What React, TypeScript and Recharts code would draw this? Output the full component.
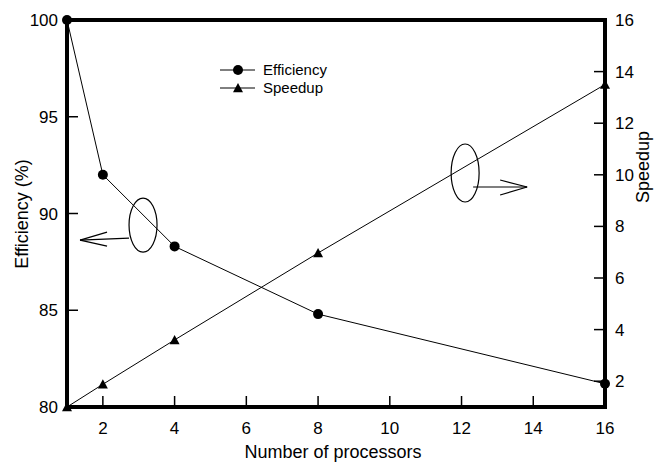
import React from "react";
import {
  LineChart,
  Line,
  XAxis,
  YAxis,
  ReferenceLine,
  ReferenceDot,
} from "recharts";

const processors = [1, 2, 4, 8, 16];
const efficiency = [100, 92, 88.3, 84.8, 81.2];
const speedup = [1, 1.88, 3.6, 6.97, 13.5];

const xTicks = [2, 4, 6, 8, 10, 12, 14, 16];
const effTicks = [80, 85, 90, 95, 100];
const speedTicks = [2, 4, 6, 8, 10, 12, 14, 16];

const data = processors.map((n, i) => ({
  n,
  efficiency: efficiency[i],
  speedup: speedup[i],
}));

const FONT = "Arial, 'Liberation Sans', sans-serif";

const Triangle = ({ cx, cy, size = 5 }: any) => {
  if (cx == null || cy == null) return null;
  return (
    <path
      d={`M${cx},${cy - size} L${cx + size},${cy + size * 0.85} L${cx - size},${cy + size * 0.85} Z`}
      fill="#000"
    />
  );
};

// ellipse + arrow pointing to the left axis
const LeftMarker = ({ cx, cy }: any) => (
  <g stroke="#000" fill="none" strokeWidth={1.2}>
    <ellipse cx={cx} cy={cy} rx={14} ry={27} />
    <line x1={cx - 14} y1={cy + 13} x2={cx - 63} y2={cy + 15} />
    <line x1={cx - 63} y1={cy + 15} x2={cx - 36} y2={cy + 7} />
    <line x1={cx - 63} y1={cy + 15} x2={cx - 36} y2={cy + 21} />
  </g>
);

// ellipse + arrow pointing to the right axis
const RightMarker = ({ cx, cy }: any) => (
  <g stroke="#000" fill="none" strokeWidth={1.2}>
    <ellipse cx={cx} cy={cy} rx={14} ry={29} />
    <line x1={cx + 8} y1={cy + 14} x2={cx + 62} y2={cy + 14} />
    <line x1={cx + 62} y1={cy + 14} x2={cx + 35} y2={cy + 7} />
    <line x1={cx + 62} y1={cy + 14} x2={cx + 35} y2={cy + 22} />
  </g>
);

const LegendBox = () => (
  <svg
    width={130}
    height={40}
    style={{ position: "absolute", left: 215, top: 58, overflow: "visible" }}
  >
    <g stroke="#000" strokeWidth={1}>
      <line x1={5} y1={12} x2={40} y2={12} />
      <line x1={5} y1={30} x2={40} y2={30} />
    </g>
    <circle cx={23} cy={12} r={5} fill="#000" />
    <Triangle cx={23} cy={30} size={5} />
    <text x={48} y={17} fontSize={15} fontFamily={FONT}>
      Efficiency
    </text>
    <text x={48} y={35} fontSize={15} fontFamily={FONT}>
      Speedup
    </text>
  </svg>
);

const tickStyle = { fill: "#000", fontSize: 17, fontFamily: FONT };

export default function App() {
  return (
    <div
      style={{
        position: "absolute",
        left: 0,
        top: 0,
        width: 663,
        height: 464,
        background: "#fff",
      }}
    >
      <LineChart
        width={663}
        height={464}
        data={data}
        margin={{ top: 20, right: 0, left: 0, bottom: 0 }}
      >
        <XAxis
          dataKey="n"
          type="number"
          domain={[1, 16]}
          ticks={xTicks}
          height={57}
          tickSize={-11}
          tickMargin={26}
          tick={tickStyle}
          axisLine={{ stroke: "#000", strokeWidth: 4, strokeLinecap: "square" }}
          tickLine={{ stroke: "#000", strokeWidth: 1.5 }}
          label={{
            content: (props: any) => {
              const vb = props.viewBox || {};
              return (
                <text
                  x={(vb.x || 0) + (vb.width || 0) / 2 - 3}
                  y={458}
                  textAnchor="middle"
                  fontSize={18}
                  fontFamily={FONT}
                  fill="#000"
                >
                  Number of processors
                </text>
              );
            },
          }}
        />
        <YAxis
          yAxisId="left"
          domain={[80, 100]}
          ticks={effTicks}
          width={67}
          tickSize={-11}
          tickMargin={20}
          tick={tickStyle}
          axisLine={{ stroke: "#000", strokeWidth: 4, strokeLinecap: "square" }}
          tickLine={{ stroke: "#000", strokeWidth: 1.5 }}
          label={{
            content: () => (
              <text
                x={0}
                y={0}
                transform="translate(28,214) rotate(-90)"
                textAnchor="middle"
                fontSize={18}
                fontFamily={FONT}
                fill="#000"
              >
                Efficiency (%)
              </text>
            ),
          }}
        />
        <YAxis
          yAxisId="right"
          orientation="right"
          domain={[1, 16]}
          ticks={speedTicks}
          width={58}
          tickSize={-11}
          tickMargin={21}
          tick={tickStyle}
          axisLine={{ stroke: "#000", strokeWidth: 4, strokeLinecap: "square" }}
          tickLine={{ stroke: "#000", strokeWidth: 1.5 }}
          label={{
            content: () => (
              <text
                x={0}
                y={0}
                transform="translate(649,167) rotate(-90)"
                textAnchor="middle"
                fontSize={18}
                fontFamily={FONT}
                fill="#000"
              >
                Speedup
              </text>
            ),
          }}
        />
        <ReferenceLine
          yAxisId="left"
          y={100}
          stroke="#000"
          strokeWidth={4}
          strokeLinecap="square"
        />
        <ReferenceDot
          yAxisId="left"
          x={3.12}
          y={89.4}
          shape={(p: any) => <LeftMarker {...p} />}
        />
        <ReferenceDot
          yAxisId="right"
          x={12.1}
          y={10.07}
          shape={(p: any) => <RightMarker {...p} />}
        />
        <Line
          yAxisId="left"
          type="linear"
          dataKey="efficiency"
          stroke="#000"
          strokeWidth={1}
          dot={{ r: 5, fill: "#000", stroke: "#000", strokeWidth: 0 }}
          isAnimationActive={false}
        />
        <Line
          yAxisId="right"
          type="linear"
          dataKey="speedup"
          stroke="#000"
          strokeWidth={1}
          dot={(p: any) => <Triangle key={p.index} cx={p.cx} cy={p.cy} size={5} />}
          isAnimationActive={false}
        />
      </LineChart>
      <LegendBox />
    </div>
  );
}
